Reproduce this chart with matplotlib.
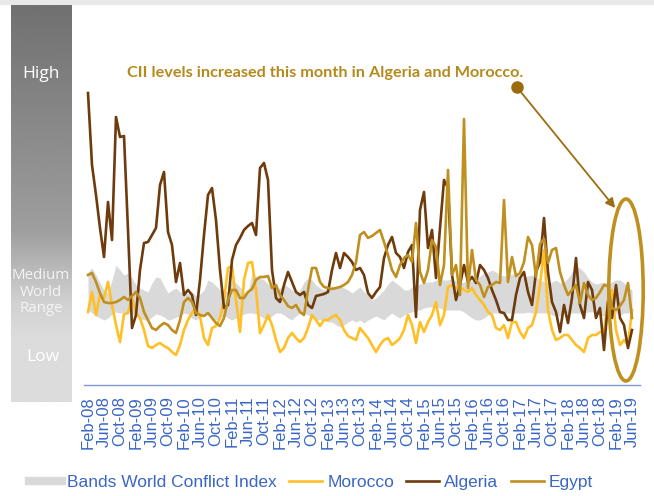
import numpy as np
import pandas as pd
import matplotlib
matplotlib.use('Agg')
import matplotlib.pyplot as plt
from matplotlib.lines import Line2D
from matplotlib.patches import Ellipse, Rectangle

plt.rcParams['font.family'] = ['Liberation Sans', 'DejaVu Sans']

# monthly index levels, Feb-08 .. Jun-19 (arbitrary units)
months = pd.date_range('2008-02-01', '2019-06-01', freq='MS')
tick_labels = [m.strftime('%b-%y') for m in months[::4]]

algeria = [292, 220, 190, 157, 128, 183, 145, 268, 248, 249,
           155, 57, 70, 115, 142, 143, 150, 157, 200, 213,
           153, 140, 103, 122, 90, 95, 90, 70, 105, 150,
           190, 197, 165, 115, 77, 80, 125, 140, 147, 155,
           159, 162, 150, 217, 222, 205, 115, 87, 83, 100,
           113, 103, 93, 90, 93, 80, 77, 89, 90, 91,
           93, 115, 132, 117, 132, 128, 123, 115, 117, 110,
           92, 87, 93, 98, 127, 140, 148, 132, 128, 117,
           133, 140, 68, 175, 193, 137, 155, 107, 157, 205,
           197, 110, 85, 100, 120, 103, 108, 102, 120, 115,
           107, 95, 85, 73, 72, 65, 65, 90, 107, 113,
           93, 80, 113, 123, 167, 113, 83, 73, 53, 80,
           62, 87, 127, 80, 67, 103, 95, 67, 77, 35,
           83, 67, 100, 67, 60, 37, 55]

morocco = [73, 93, 70, 90, 87, 103, 80, 60, 43, 71,
           72, 87, 72, 67, 55, 39, 37, 40, 42, 39,
           37, 33, 30, 40, 55, 65, 72, 77, 69, 47,
           40, 57, 59, 67, 85, 117, 119, 85, 53, 105,
           122, 123, 95, 52, 60, 70, 60, 45, 33, 37,
           47, 52, 47, 43, 47, 57, 70, 65, 59, 65,
           65, 68, 70, 65, 55, 49, 47, 45, 57, 52,
           47, 40, 33, 40, 45, 47, 40, 43, 47, 55,
           70, 60, 42, 63, 53, 63, 70, 83, 60, 70,
           98, 100, 97, 98, 95, 93, 97, 90, 85, 80,
           73, 70, 57, 55, 60, 47, 63, 63, 53, 47,
           57, 60, 73, 100, 135, 75, 55, 45, 47, 50,
           50, 45, 40, 37, 33, 47, 50, 50, 53, 53,
           85, 95, 55, 40, 45, 40, 75]

egypt = [110, 112, 103, 92, 83, 82, 82, 83, 85, 88,
         85, 89, 93, 87, 73, 65, 57, 55, 59, 62,
         60, 55, 52, 65, 83, 87, 83, 72, 70, 69,
         72, 67, 62, 59, 67, 85, 95, 95, 87, 87,
         93, 96, 105, 108, 108, 109, 97, 100, 90, 85,
         79, 77, 80, 73, 70, 95, 117, 117, 103, 98,
         97, 96, 97, 98, 100, 103, 110, 123, 150, 153,
         147, 149, 152, 155, 143, 130, 115, 108, 120, 127,
         130, 123, 162, 113, 102, 115, 145, 138, 100, 120,
         215, 110, 120, 90, 266, 97, 135, 105, 100, 88,
         98, 100, 103, 102, 185, 103, 128, 109, 112, 123,
         148, 140, 108, 141, 146, 122, 135, 137, 113, 100,
         90, 95, 100, 82, 102, 90, 85, 87, 93, 100,
         99, 77, 75, 79, 85, 102, 67]

band_high = [113, 117, 110, 102, 95, 92, 105, 120, 115, 110,
             112, 107, 100, 97, 95, 93, 102, 108, 107, 99,
             92, 95, 97, 93, 92, 91, 93, 89, 91, 95,
             105, 103, 99, 95, 95, 93, 105, 102, 98, 93,
             93, 112, 109, 107, 105, 101, 98, 95, 97, 101,
             98, 95, 92, 95, 103, 107, 105, 100, 97, 95,
             97, 99, 98, 99, 97, 95, 92, 95, 98, 93,
             90, 85, 87, 91, 95, 101, 105, 102, 99, 95,
             95, 98, 100, 101, 102, 103, 103, 105, 105, 105,
             105, 106, 104, 102, 103, 105, 104, 105, 109, 112,
             113, 115, 113, 110, 109, 110, 111, 110, 108, 108,
             109, 110, 108, 105, 103, 102, 103, 105, 102, 103,
             107, 113, 118, 117, 113, 107, 103, 101, 102, 103,
             102, 103, 105, 105, 102, 98, 95]

band_low = [75, 72, 69, 67, 65, 67, 71, 73, 72, 73,
            74, 71, 69, 67, 65, 65, 68, 71, 70, 68,
            65, 66, 68, 69, 72, 71, 67, 65, 68, 72,
            70, 67, 65, 67, 70, 67, 65, 67, 69, 71,
            72, 72, 71, 69, 67, 65, 69, 72, 72, 70,
            67, 65, 69, 72, 72, 70, 67, 65, 65, 65,
            63, 63, 60, 58, 60, 63, 65, 63, 65, 62,
            65, 67, 69, 67, 65, 69, 72, 69, 67, 70,
            72, 73, 75, 75, 77, 78, 78, 78, 77, 75,
            75, 75, 75, 75, 73, 70, 67, 65, 65, 67,
            70, 72, 72, 72, 72, 72, 72, 72, 72, 72,
            73, 72, 72, 72, 72, 72, 70, 69, 69, 72,
            72, 72, 72, 72, 72, 73, 73, 72, 70, 69,
            72, 72, 72, 70, 72, 72, 73]

c_band = '#d9d9d9'
c_mor = '#ffbf27'
c_alg = '#6e3b0c'
c_egy = '#bf901f'
c_blue = '#3a66c4'

W, H = 654, 496
fig = plt.figure(figsize=(W / 100, H / 100), dpi=100)
fig.patch.set_facecolor('white')

# light strip along the top edge
fig.patches.append(Rectangle((0, 1 - 5 / H), 1, 5 / H, transform=fig.transFigure,
                             facecolor='#e9e9e9', edgecolor='none', zorder=0))

# gradient level bar on the left
bar = fig.add_axes([11 / W, (H - 402) / H, 61 / W, 397 / H])
yy = np.linspace(0, 1, 400)
shade = np.interp(yy, [0, 0.57, 0.75, 0.84, 1], [0.44, 0.62, 0.82, 0.86, 0.86])
bar.imshow(shade[:, None], cmap='gray', vmin=0, vmax=1, aspect='auto',
           extent=[0, 1, 1, 0])
bar.set_axis_off()

bar_font = ['Open Sans', 'DejaVu Sans']
fig.text(41 / W, 1 - 74 / H, 'High', color='white', fontsize=12.5,
         family=bar_font, ha='center', va='center')
fig.text(41 / W, 1 - 292 / H, 'Medium\nWorld\nRange', color='#f4f4f4', fontsize=10.8,
         family=bar_font, ha='center', va='center', linespacing=1.1)
fig.text(43 / W, 1 - 357 / H, 'Low', color='white', fontsize=12.5,
         family=bar_font, ha='center', va='center')

# main chart
ax = fig.add_axes([84 / W, (H - 385) / H, 556 / W, 380 / H])
x = np.arange(len(months))
ax.fill_between(x, band_low, band_high, color=c_band, lw=0, zorder=1)
ax.plot(x, morocco, color=c_mor, lw=1.9, zorder=2)
ax.plot(x, algeria, color=c_alg, lw=1.9, zorder=3)
ax.plot(x, egypt, color=c_egy, lw=1.9, zorder=4)

ax.set_xlim(-1, 138)
ax.set_ylim(0, 380)
for s in ['left', 'right', 'top']:
    ax.spines[s].set_visible(False)
ax.spines['bottom'].set_color('#7f98d6')
ax.spines['bottom'].set_linewidth(1.0)
ax.set_yticks([])
ax.set_xticks(x[::4])
ax.set_xticklabels(tick_labels, rotation=90, fontsize=12, color=c_blue)
ax.tick_params(axis='x', length=0, pad=8)

# callout
fig.text(127 / W, 1 - 73 / H, 'CII levels increased this month in Algeria and Morocco.',
         color='#b58a1d', fontsize=11.7, fontweight='bold',
         family=['Lato', 'DejaVu Sans'], ha='left', va='center')
last = len(months) - 1
ax.annotate('', xy=(last - 4.2, 177), xytext=(last - 28.8, 298),
            arrowprops=dict(arrowstyle='-|>', color='#9c6d12', lw=1.3,
                            mutation_scale=14, shrinkA=0, shrinkB=0),
            annotation_clip=False, zorder=6)
ax.plot([last - 28.8], [298], 'o', color='#9c6a0e', ms=8, clip_on=False, zorder=7)
ax.add_patch(Ellipse((last - 1.5, 95), 8.6, 182, fill=False, edgecolor=c_egy,
                     lw=2.6, clip_on=False, zorder=6))

# legend
handles = [Line2D([], [], color=c_band, lw=6),
           Line2D([], [], color=c_mor, lw=1.9),
           Line2D([], [], color=c_alg, lw=1.9),
           Line2D([], [], color=c_egy, lw=1.9)]
labels = ['Bands World Conflict Index', 'Morocco', 'Algeria', 'Egypt']
fig.legend(handles, labels, loc='center', bbox_to_anchor=(311 / W, 1 - 482 / H),
           ncol=4, frameon=False, fontsize=12.5, labelcolor=c_blue,
           handlelength=1.9, handletextpad=0.3, columnspacing=0.7)

fig.savefig('out.png', dpi=100)
